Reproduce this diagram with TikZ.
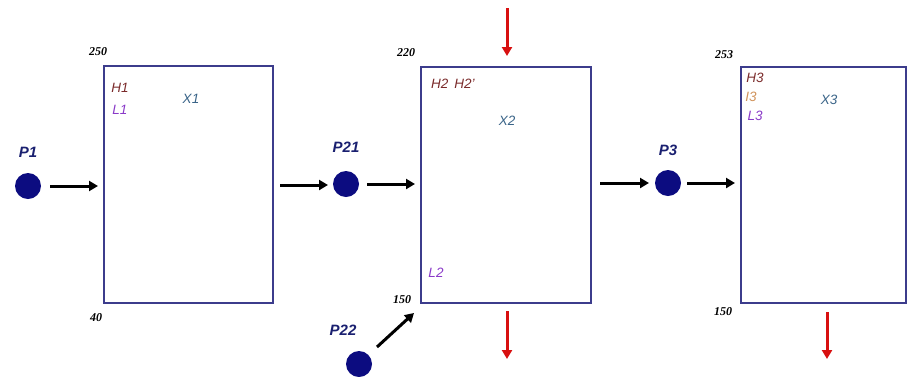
\documentclass[tikz,border=0pt]{standalone}
\usepackage{fontspec}
\setmainfont{Liberation Serif}
\setsansfont{Liberation Sans}
\usetikzlibrary{arrows.meta}
\definecolor{boxc}{HTML}{3C3C8C}
\definecolor{navy}{HTML}{0C0C80}
\definecolor{plab}{HTML}{1A2070}
\definecolor{hcol}{HTML}{7A2A2A}
\definecolor{lcol}{HTML}{8A3AC8}
\definecolor{xcol}{HTML}{3A6488}
\definecolor{icol}{HTML}{D0925A}
\definecolor{redc}{HTML}{D81010}
\tikzset{
  unit/.style={draw=boxc, line width=1.2pt, inner sep=0pt},
  pnode/.style={circle, fill=navy, minimum size=26pt, inner sep=0pt},
  plabel/.style={font=\sffamily\bfseries\itshape\fontsize{15}{15}\selectfont, text=plab},
  num/.style={font=\rmfamily\bfseries\itshape\fontsize{12}{12}\selectfont},
  tlab/.style={font=\sffamily\itshape\fontsize{13.5}{13.5}\selectfont},
  flow/.style={line width=3pt, -{Triangle[length=9pt,width=10pt]}},
  redflow/.style={draw=redc, line width=3pt, -{Triangle[length=9pt,width=10pt]}}
}
\begin{document}
\begin{tikzpicture}[x=1pt,y=-1pt]
\useasboundingbox (0,0) rectangle (907,376);
% boxes
\draw[unit] (104,66) rectangle (273,303);
\draw[unit] (421,67) rectangle (591,303);
\draw[unit] (741,67) rectangle (906,303);
\coordinate (b1w) at (98,186);
\coordinate (b1e) at (280,185);
\coordinate (p21in) at (328,185);
\coordinate (b2w) at (415,184);
\coordinate (b2sw) at (414,313);
\coordinate (p22out) at (377,347);
\coordinate (b2e) at (600,183);
\coordinate (p3in) at (649,183);
\coordinate (b3w) at (735,183);
% numbers
\node[num] (n250) at (98,52) {250};
\node[num] (n40) at (96,318) {40};
\node[num] (n220) at (406,53) {220};
\node[num] (n150a) at (402,300) {150};
\node[num] (n253) at (724,55) {253};
\node[num] (n150b) at (723,312) {150};
% texts inside boxes
\node[tlab, text=hcol] (h1) at (120,88) {H1};
\node[tlab, text=lcol] (l1) at (120,110) {L1};
\node[tlab, text=xcol] (x1) at (191,99) {X1};
\node[tlab, text=hcol] (h2) at (453,84) {H2\ \,H2'};
\node[tlab, text=xcol] (x2) at (507,121) {X2};
\node[tlab, text=lcol] (l2) at (436,273) {L2};
\node[tlab, text=hcol] (h3) at (755,78) {H3};
\node[tlab, text=icol] (i3) at (751,97) {I3};
\node[tlab, text=lcol] (l3) at (755,116) {L3};
\node[tlab, text=xcol] (x3) at (829,100) {X3};
% P nodes
\node[pnode] (p1) at (28,186) {};
\node[plabel] (p1l) at (28,152) {P1};
\node[pnode] (p21) at (346,184) {};
\node[plabel] (p21l) at (346,147) {P21};
\node[pnode] (p22) at (359,364) {};
\node[plabel] (p22l) at (343,330) {P22};
\node[pnode] (p3) at (668,183) {};
\node[plabel] (p3l) at (668,150) {P3};
% flows
\draw[flow] ([xshift=9pt]p1.east) -- (b1w);
\draw[flow] (b1e) -- (p21in);
\draw[flow] ([xshift=8pt]p21.east) -- (b2w);
\draw[flow] (p22out) -- (b2sw);
\draw[flow] (b2e) -- (p3in);
\draw[flow] ([xshift=6pt]p3.east) -- (b3w);
% red arrows
\coordinate (r1a) at (507,8);
\coordinate (r1b) at (507,56);
\coordinate (r2a) at (507,311);
\coordinate (r2b) at (507,359);
\coordinate (r3a) at (827,312);
\coordinate (r3b) at (827,359);
\draw[redflow] (r1a) -- (r1b);
\draw[redflow] (r2a) -- (r2b);
\draw[redflow] (r3a) -- (r3b);
\end{tikzpicture}
\end{document}
